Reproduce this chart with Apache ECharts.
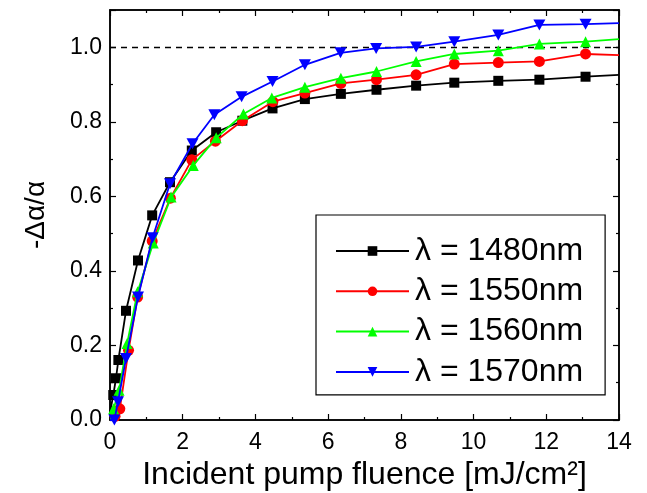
<!DOCTYPE html>
<html>
<head>
<meta charset="utf-8">
<script src="https://cdn.jsdelivr.net/npm/echarts@6/dist/echarts.min.js"></script>
<style>
  html, body { margin: 0; padding: 0; background: #fff; }
  #chart { width: 647px; height: 493px; }
</style>
</head>
<body>
<div id="chart"></div>
<script>
// fluence (mJ/cm2) and -Δα/α, one pair of arrays per wavelength
const names = ['λ = 1480nm', 'λ = 1550nm', 'λ = 1560nm', 'λ = 1570nm'];
const colors = ['#000000', '#ff0000', '#00ff00', '#0000ff'];
const symbols = ['rect', 'circle', 'triangle', 'path://M0,0 L10,0 L5,9 Z'];

const x1480 = [0.0, 0.09, 0.165, 0.23, 0.44, 0.77, 1.16, 1.65, 2.25, 2.92, 3.64, 4.47, 5.36, 6.35, 7.33, 8.42, 9.47, 10.68, 11.81, 13.08, 14.0];
const y1480 = [0.02, 0.067, 0.112, 0.161, 0.293, 0.428, 0.549, 0.638, 0.723, 0.772, 0.803, 0.836, 0.861, 0.875, 0.886, 0.897, 0.905, 0.910, 0.913, 0.921, 0.926];

const x1550 = [0.03, 0.14, 0.27, 0.51, 0.76, 1.16, 1.66, 2.25, 2.9, 3.64, 4.48, 5.36, 6.35, 7.33, 8.42, 9.47, 10.68, 11.81, 13.08, 14.0];
const y1550 = [0.0, 0.01, 0.03, 0.187, 0.33, 0.48, 0.595, 0.698, 0.748, 0.803, 0.854, 0.877, 0.903, 0.913, 0.926, 0.955, 0.959, 0.962, 0.982, 0.979];

const x1560 = [0.02, 0.1, 0.25, 0.47, 0.76, 1.19, 1.68, 2.29, 2.92, 3.67, 4.45, 5.36, 6.35, 7.33, 8.42, 9.47, 10.68, 11.81, 13.08, 14.0];
const y1560 = [0.0, 0.03, 0.08, 0.205, 0.344, 0.475, 0.598, 0.683, 0.757, 0.821, 0.864, 0.893, 0.917, 0.935, 0.962, 0.982, 0.991, 1.009, 1.015, 1.022];

const x1570 = [0.0, 0.12, 0.22, 0.44, 0.77, 1.17, 1.65, 2.27, 2.87, 3.62, 4.47, 5.36, 6.34, 7.32, 8.42, 9.47, 10.68, 11.81, 13.08, 14.0];
const y1570 = [0.0, 0.0, 0.049, 0.165, 0.33, 0.489, 0.634, 0.741, 0.819, 0.867, 0.908, 0.953, 0.985, 0.997, 1.001, 1.015, 1.033, 1.060, 1.062, 1.065];

const xsAll = [x1480, x1550, x1560, x1570];
const ysAll = [y1480, y1550, y1560, y1570];

const font = '"Liberation Sans", Arial, sans-serif';

// first and last points carry no marker
function pts(xs, ys) {
    return xs.map((x, i) => {
        const p = { value: [x, ys[i]] };
        if (i === 0 || i === xs.length - 1) p.symbol = 'none';
        return p;
    });
}

const series = names.map((n, k) => ({
    name: n,
    type: 'line',
    xAxisIndex: 0,
    yAxisIndex: 0,
    data: pts(xsAll[k], ysAll[k]),
    symbol: symbols[k],
    symbolSize: k === 3 ? [12, 11] : (k === 0 ? 10 : 11),
    showAllSymbol: true,
    color: colors[k],
    lineStyle: { width: 1.8, color: colors[k] },
    itemStyle: { color: colors[k] },
    z: 3 + k,
    animation: false
}));

// dashed reference at 1.0
series[0].markLine = {
    silent: true,
    symbol: 'none',
    label: { show: false },
    lineStyle: { type: [6, 5], color: '#000', width: 1.3 },
    data: [{ yAxis: 1.0 }]
};

const line = () => ({ onZero: false, show: true, lineStyle: { color: '#000', width: 1.5 } });
const tick = () => ({ inside: true, length: 6, lineStyle: { color: '#000', width: 1.2 } });
const minor = () => ({ show: true, splitNumber: 2, length: 3, lineStyle: { color: '#000', width: 1.2 } });

const chart = echarts.init(document.getElementById('chart'));
chart.setOption({
    backgroundColor: '#fff',
    animation: false,
    textStyle: { fontFamily: font },
    grid: {
        left: 110, right: 28, top: 10, bottom: 73,
        outerBoundsMode: 'none',
        show: true, borderColor: '#000', borderWidth: 1.5, backgroundColor: 'transparent'
    },
    legend: {
        orient: 'vertical',
        left: 316,
        top: 215,
        padding: [20, 22, 7, 19],
        itemWidth: 73,
        itemHeight: 12,
        itemGap: 8.3,
        borderColor: '#000',
        borderWidth: 1.2,
        backgroundColor: '#fff',
        textStyle: { fontFamily: font, fontSize: 32, color: '#000', lineHeight: 30, padding: [0, 0, 0, 1] },
        data: names
    },
    xAxis: [{
        type: 'value',
        min: 0, max: 14, interval: 2,
        name: 'Incident pump fluence [mJ/cm²]',
        nameLocation: 'middle',
        nameGap: 33,
        nameTextStyle: { fontSize: 32, color: '#000', fontFamily: font },
        axisLine: line(),
        axisTick: tick(),
        minorTick: minor(),
        axisLabel: { fontSize: 23, color: '#000', margin: 11, fontFamily: font },
        splitLine: { show: false }
    }, {
        type: 'value',
        position: 'top',
        min: 0, max: 14, interval: 2,
        axisLine: line(),
        axisTick: tick(),
        minorTick: minor(),
        axisLabel: { show: false },
        splitLine: { show: false }
    }],
    yAxis: [{
        type: 'value',
        min: 0, max: 1.1, interval: 0.2,
        name: '-Δα/α',
        nameLocation: 'middle',
        nameGap: 60,
        nameRotate: 90,
        nameTextStyle: { fontSize: 28, color: '#000', fontFamily: font },
        axisLine: line(),
        axisTick: tick(),
        minorTick: minor(),
        axisLabel: {
            fontSize: 23, color: '#000', margin: 8, fontFamily: font,
            formatter: v => v.toFixed(1),
            showMaxLabel: false
        },
        splitLine: { show: false }
    }, {
        type: 'value',
        position: 'right',
        min: 0, max: 1.1, interval: 0.2,
        axisLine: line(),
        axisTick: tick(),
        minorTick: minor(),
        axisLabel: { show: false },
        splitLine: { show: false }
    }],
    series: series
});
</script>
</body>
</html>
